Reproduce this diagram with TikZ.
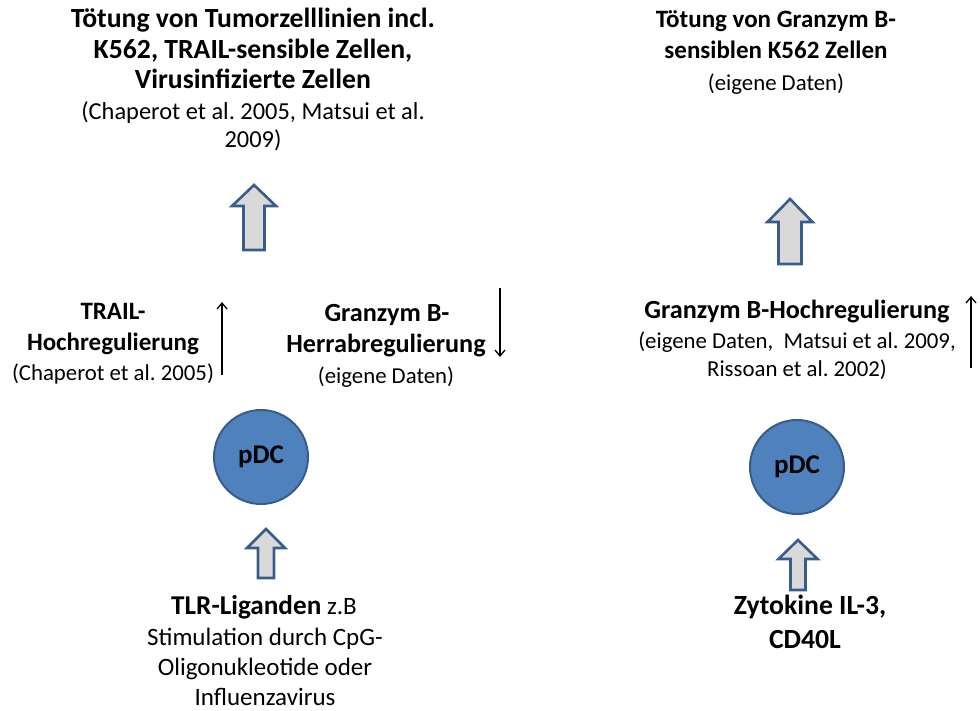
\documentclass[tikz,border=0pt]{standalone}
\usepackage{fontspec}
\setmainfont{Carlito}
\usetikzlibrary{arrows.meta}
\frenchspacing
\definecolor{pdcfill}{HTML}{4F81BD}
\definecolor{pdcline}{HTML}{385D8A}
\definecolor{arrowfill}{HTML}{D9D9D9}
\tikzset{
  head/.style={font=\fontsize{25}{30.5}\selectfont\bfseries, anchor=base, inner sep=0pt},
  midhead/.style={font=\fontsize{26.2}{32}\selectfont\bfseries, anchor=base, inner sep=0pt},
  bighead/.style={font=\fontsize{27.7}{33.8}\selectfont\bfseries, anchor=base, inner sep=0pt},
  cite/.style={font=\fontsize{22.8}{27.8}\selectfont, anchor=base, inner sep=0pt},
  bigcite/.style={font=\fontsize{24.4}{29.8}\selectfont, anchor=base, inner sep=0pt},
  plain/.style={font=\fontsize{25}{30.5}\selectfont, anchor=base, inner sep=0pt},
  cell/.style={circle, draw=pdcline, line width=2pt, fill=pdcfill, minimum size=94pt,
    inner sep=0pt, font=\fontsize{27}{32}\selectfont\bfseries},
  thinarrow/.style={draw=black, line width=1.3pt, -{Straight Barb[length=6pt,width=10pt]}},
  % hollow block arrow pointing up; placed at the middle of its base
  % #1 total length, #2 head length, #3 head width, #4 shaft width
  pics/barrow/.style n args={4}{code={
    \draw[draw=pdcline, fill=arrowfill, line width=2.6pt, line join=miter]
      (-#4/2,0) -- (-#4/2,-#1+#2) -- (-#3/2,-#1+#2) -- (0,-#1)
      -- (#3/2,-#1+#2) -- (#4/2,-#1+#2) -- (#4/2,0) -- cycle;
  }},
}
\begin{document}
\begin{tikzpicture}[x=1pt, y=-1pt]
\useasboundingbox (0,0) rectangle (980,710);

% left pathway: TLR ligands
\node[bighead] (tl1) at (253,27) {Tötung von Tumorzelllinien incl.};
\node[bighead] (tl2) at (253,58) {K562, TRAIL-sensible Zellen,};
\node[bighead] (tl3) at (253,88) {Virusinfizierte Zellen};
\node[bigcite] (tl4) at (253,119) {(Chaperot et al. 2005, Matsui et al.};
\node[bigcite] (tl5) at (253,147) {2009)};

\pic at (254,250) {barrow={65}{21}{44}{21}};

\node[head] (tr1) at (113,319) {TRAIL-};
\node[head] (tr2) at (113,350) {Hochregulierung};
\node[cite] (tr3) at (113,380) {(Chaperot et al. 2005)};
\coordinate (trailLow) at (222,375);
\coordinate (trailHigh) at (222,302);
\draw[thinarrow] (trailLow) -- (trailHigh);

\node[midhead] (gd1) at (387,321) {Granzym B-};
\node[midhead] (gd2) at (386,352) {Herrabregulierung};
\node[cite] (gd3) at (386,383) {(eigene Daten)};
\coordinate (gzHigh) at (500,288);
\coordinate (gzLow) at (500,357);
\draw[thinarrow] (gzHigh) -- (gzLow);

\node[cell] (pdcL) at (261,457) {pDC};

\pic at (266,578) {barrow={49}{19}{38}{16}};

\node[plain] (bl1) at (264,614) {{\fontsize{27.2}{33}\selectfont\bfseries TLR-Liganden} z.B};
\node[plain] (bl2) at (265,645) {Stimulation durch CpG-};
\node[plain] (bl3) at (265,675) {Oligonukleotide oder};
\node[plain] (bl4) at (265,705) {Influenzavirus};

% right pathway: cytokines
\node[head] (rt1) at (776,27) {Tötung von Granzym B-};
\node[head] (rt2) at (776,58) {sensiblen K562 Zellen};
\node[cite] (rt3) at (776,90) {(eigene Daten)};

\pic at (790,264) {barrow={65}{23}{45}{23}};

\node[midhead] (gu1) at (797,318) {Granzym B-Hochregulierung};
\node[cite] (gu2) at (797,348) {(eigene Daten,\ \ Matsui et al. 2009,};
\node[cite] (gu3) at (797,376) {Rissoan et al. 2002)};
\coordinate (guLow) at (971,368);
\coordinate (guHigh) at (971,296);
\draw[thinarrow] (guLow) -- (guHigh);

\node[cell] (pdcR) at (797,467) {pDC};

\pic at (798,590) {barrow={50}{19}{39}{15}};

\node[bighead] (br1) at (810,614) {Zytokine IL-3,};
\node[bighead] (br2) at (805,648) {CD40L};
\end{tikzpicture}
\end{document}
